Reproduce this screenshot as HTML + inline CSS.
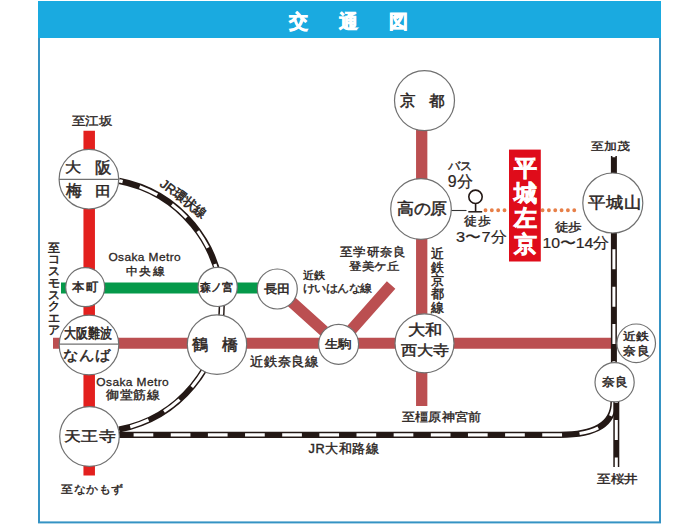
<!DOCTYPE html>
<html><head><meta charset="utf-8">
<style>
html,body{margin:0;padding:0;background:#fff;width:700px;height:525px;overflow:hidden}
svg{position:absolute;left:0;top:0;font-family:"Liberation Sans",sans-serif}
</style></head><body>
<svg width="700" height="525" viewBox="0 0 700 525">
<!-- frame -->
<rect x="39" y="2" width="621" height="520.4" fill="#fff" stroke="#3593c4" stroke-width="2"/>
<rect x="38" y="1" width="623" height="37" fill="#1aaae0"/>
<g fill="#fff" stroke="#fff" stroke-width="0.7" font-size="19" font-weight="bold">
<text x="289" y="28.2">交</text><text x="339" y="28.2">通</text><text x="389" y="28.2">図</text>
</g>
<!-- lines -->
<g fill="none" stroke-linecap="butt">
<line x1="89.2" y1="130.7" x2="89.2" y2="475.5" stroke="#e3201e" stroke-width="11.5"/>
<line x1="61" y1="288" x2="277" y2="288" stroke="#05994a" stroke-width="11"/>
<line x1="53" y1="343.3" x2="611" y2="343.3" stroke="#bb4f51" stroke-width="11"/>
<line x1="421.7" y1="100" x2="421.7" y2="406" stroke="#bb4f51" stroke-width="11.3"/>
<polyline points="277.3,289 338.6,344.3 391.1,284.9" stroke="#bb4f51" stroke-width="11.3"/>
<line x1="485.5" y1="210.3" x2="580" y2="210.3" stroke="#e77f48" stroke-width="3.9" stroke-linecap="round" stroke-dasharray="0 6.34"/>
<line x1="451" y1="210.5" x2="466.5" y2="210.5" stroke="#333" stroke-width="1.1"/>
</g>
<!-- JR tracks -->
<g fill="none">
<path d="M119,180.86 A126.6 126.6 0 0 1 119,429.54" stroke="#231815" stroke-width="6.2"/>
<path d="M119,180.86 A126.6 126.6 0 0 1 119,429.54" stroke="#fff" stroke-width="3.2" stroke-dasharray="19.5 17.6" stroke-dashoffset="15.7"/>
<path d="M89,434.8 H560 C596,434.8 613.5,424 613.5,402" stroke="#231815" stroke-width="6.2"/>
<path d="M89,434.8 H560 C596,434.8 613.5,424 613.5,402" stroke="#fff" stroke-width="3.2" stroke-dasharray="19.7 17.45" stroke-dashoffset="29.7"/>
<line x1="613.9" y1="156" x2="613.9" y2="402" stroke="#231815" stroke-width="6"/>
<line x1="613.9" y1="156" x2="613.9" y2="402" stroke="#fff" stroke-width="3" stroke-dasharray="20 17.35" stroke-dashoffset="18.75"/>
<line x1="616.3" y1="382" x2="616.3" y2="467" stroke="#231815" stroke-width="6"/>
<line x1="616.3" y1="382" x2="616.3" y2="467" stroke="#fff" stroke-width="3" stroke-dasharray="20 17.35" stroke-dashoffset="36.6"/>
</g>
<!-- bus stop -->
<circle cx="475.5" cy="196.8" r="6.7" fill="#fff" stroke="#231815" stroke-width="1.6"/>
<line x1="475.6" y1="203.4" x2="475.6" y2="211.5" stroke="#231815" stroke-width="1.6"/>
<line x1="468.3" y1="211.8" x2="482.2" y2="211.8" stroke="#231815" stroke-width="1.5"/>
<!-- stations -->
<g fill="#fff" stroke="#707070" stroke-width="1.2">
<circle cx="88.9" cy="179.2" r="29.8"/>
<circle cx="85.2" cy="287.2" r="19.5"/>
<circle cx="89" cy="345" r="29.8"/>
<circle cx="89.5" cy="436.5" r="29.8"/>
<circle cx="217.7" cy="286.9" r="19.6"/>
<circle cx="277.3" cy="289" r="20"/>
<circle cx="217" cy="344.6" r="29.7"/>
<circle cx="338.6" cy="344.3" r="20"/>
<circle cx="424.5" cy="100.6" r="30"/>
<circle cx="421" cy="209" r="30.3"/>
<circle cx="424.5" cy="343.3" r="29.5"/>
<circle cx="612.8" cy="203" r="30"/>
<circle cx="636.2" cy="343.3" r="19.3"/>
<circle cx="614.6" cy="382.2" r="19.6"/>
</g>
<g stroke="#707070" stroke-width="1.2">
<line x1="59" y1="179.3" x2="118.7" y2="179.3"/>
<line x1="59.2" y1="344.2" x2="118.8" y2="344.2"/>
</g>
<!-- red box -->
<rect x="509" y="149.6" width="31.8" height="111.9" fill="#df0c1a"/>
<g fill="#fff" stroke="#fff" stroke-width="0.7" font-size="22.8" font-weight="bold">
<text x="513.6" y="175.8">平</text><text x="513.6" y="201.1">城</text><text x="513.6" y="226.4">左</text><text x="513.6" y="251.6">京</text>
</g>
<g fill="#2b2523" stroke="#2b2523" stroke-width="0.45" font-size="13">
<text x="431" y="258.30">近</text><text x="431" y="271.65">鉄</text><text x="431" y="285.00">京</text><text x="431" y="298.35">都</text><text x="431" y="311.70">線</text>
</g>
<g fill="#2b2523" stroke="#2b2523" stroke-width="0.5" font-size="12.3">
<text x="48.3" y="251.60">至</text><text x="48.3" y="263.35">コ</text><text x="48.3" y="275.10">ス</text><text x="48.3" y="286.85">モ</text><text x="48.3" y="298.60">ス</text><text x="48.3" y="310.35">ク</text><text x="48.3" y="322.10">エ</text><text x="48.3" y="333.85">ア</text>
</g>
<text fill="#2b2523" stroke="#2b2523" stroke-width="0.5" font-size="13" transform="translate(183.6,198.6) rotate(37.5)" text-anchor="middle" y="4.6">JR環状線</text>

<text transform="translate(65.30 172.40) scale(1 0.870)" font-size="16.62" fill="#2b2523" stroke="#2b2523" stroke-width="0.5">大</text>
<text transform="translate(95.10 172.51) scale(1 0.970)" font-size="16.34" fill="#2b2523" stroke="#2b2523" stroke-width="0.5">阪</text>
<text transform="translate(66.34 195.76) scale(1 1.020)" font-size="15.96" fill="#2b2523" stroke="#2b2523" stroke-width="0.5">梅</text>
<text transform="translate(95.46 196.39) scale(1 0.870)" font-size="16.60" fill="#2b2523" stroke="#2b2523" stroke-width="0.5">田</text>
<text transform="translate(400.26 106.40) scale(1 1.030)" font-size="15.09" fill="#2b2523" stroke="#2b2523" stroke-width="0.5">京</text>
<text transform="translate(429.35 106.32) scale(1 0.970)" font-size="15.67" fill="#2b2523" stroke="#2b2523" stroke-width="0.5">都</text>
<text transform="translate(397.37 214.32) scale(1 0.950)" font-size="16.86" fill="#2b2523" stroke="#2b2523" stroke-width="0.5">高の原</text>
<text transform="translate(408.09 335.39) scale(1 0.870)" font-size="17.26" fill="#2b2523" stroke="#2b2523" stroke-width="0.5">大和</text>
<text transform="translate(400.61 355.02) scale(1 0.870)" font-size="16.46" fill="#2b2523" stroke="#2b2523" stroke-width="0.5">西大寺</text>
<text transform="translate(588.36 208.17) scale(1 0.920)" font-size="17.33" fill="#2b2523" stroke="#2b2523" stroke-width="0.5">平城山</text>
<text transform="translate(192.42 349.67) scale(1 1.000)" font-size="15.99" fill="#2b2523" stroke="#2b2523" stroke-width="0.5">鶴</text>
<text transform="translate(221.66 349.74) scale(1 1.000)" font-size="16.41" fill="#2b2523" stroke="#2b2523" stroke-width="0.5">橋</text>
<text transform="translate(63.68 441.48) scale(1 0.830)" font-size="17.07" fill="#2b2523" stroke="#2b2523" stroke-width="0.5">天王寺</text>
<text transform="translate(64.46 337.74) scale(1 1.170)" font-size="12.19" fill="#2b2523" stroke="#2b2523" stroke-width="0.5">大阪難波</text>
<text transform="translate(63.44 359.70) scale(1 0.910)" font-size="15.69" fill="#2b2523" stroke="#2b2523" stroke-width="0.5">なんば</text>
<text transform="translate(72.45 291.47) scale(1 0.970)" font-size="12.77" fill="#2b2523" stroke="#2b2523" stroke-width="0.5">本町</text>
<text transform="translate(200.48 290.82) scale(1 1.010)" font-size="11.26" fill="#2b2523" stroke="#2b2523" stroke-width="0.5">森ノ宮</text>
<text transform="translate(264.27 292.86) scale(1 0.900)" font-size="12.82" fill="#2b2523" stroke="#2b2523" stroke-width="0.5">長田</text>
<text transform="translate(325.40 347.84) scale(1 0.900)" font-size="12.98" fill="#2b2523" stroke="#2b2523" stroke-width="0.5">生駒</text>
<text transform="translate(601.70 386.41) scale(1 0.930)" font-size="13.12" fill="#2b2523" stroke="#2b2523" stroke-width="0.5">奈良</text>
<text transform="translate(622.69 339.76) scale(1 0.850)" font-size="12.62" fill="#2b2523" stroke="#2b2523" stroke-width="0.5">近鉄</text>
<text transform="translate(623.25 354.72) scale(1 0.930)" font-size="13.16" fill="#2b2523" stroke="#2b2523" stroke-width="0.5">奈良</text>
<text transform="translate(71.53 124.87) scale(1 0.890)" font-size="13.50" fill="#2b2523" stroke="#2b2523" stroke-width="0.4">至江坂</text>
<text transform="translate(61.42 492.50) scale(1 0.920)" font-size="12.19" fill="#2b2523" stroke="#2b2523" stroke-width="0.4">至なかもず</text>
<text transform="translate(591.47 150.35) scale(1 0.850)" font-size="13.13" fill="#2b2523" stroke="#2b2523" stroke-width="0.4">至加茂</text>
<text transform="translate(596.75 483.22) scale(1 0.880)" font-size="13.47" fill="#2b2523" stroke="#2b2523" stroke-width="0.4">至桜井</text>
<text transform="translate(96.37 386.46) scale(1 0.970)" font-size="11.96" letter-spacing="0.40" fill="#2b2523" stroke="#2b2523" stroke-width="0.3">Osaka Metro</text>
<text transform="translate(106.32 399.48) scale(1 0.930)" font-size="12.45" letter-spacing="0.99" fill="#2b2523" stroke="#2b2523" stroke-width="0.4">御堂筋線</text>
<text transform="translate(250.23 365.57) scale(1 0.970)" font-size="12.95" letter-spacing="0.52" fill="#2b2523" stroke="#2b2523" stroke-width="0.4">近鉄奈良線</text>
<text transform="translate(340.41 256.13) scale(1 0.960)" font-size="12.61" letter-spacing="0.82" fill="#2b2523" stroke="#2b2523" stroke-width="0.4">至学研奈良</text>
<text transform="translate(349.24 270.48) scale(1 0.880)" font-size="12.18" letter-spacing="0.77" fill="#2b2523" stroke="#2b2523" stroke-width="0.4">登美ケ丘</text>
<text transform="translate(303.22 279.39) scale(1 0.990)" font-size="11.33" fill="#2b2523" stroke="#2b2523" stroke-width="0.4">近鉄</text>
<text transform="translate(302.65 292.42) scale(1 0.910)" font-size="11.76" fill="#2b2523" stroke="#2b2523" stroke-width="0.4">けいはんな線</text>
<text transform="translate(108.39 260.59) scale(1 0.960)" font-size="11.94" letter-spacing="0.40" fill="#2b2523" stroke="#2b2523" stroke-width="0.3">Osaka Metro</text>
<text transform="translate(125.68 274.78) scale(1 0.930)" font-size="12.29" letter-spacing="0.99" fill="#2b2523" stroke="#2b2523" stroke-width="0.4">中央線</text>
<text transform="translate(401.58 421.47) scale(1 0.920)" font-size="12.91" letter-spacing="0.83" fill="#2b2523" stroke="#2b2523" stroke-width="0.4">至橿原神宮前</text>
<text transform="translate(308.54 453.46) scale(1 1.000)" font-size="12.70" letter-spacing="0.51" fill="#2b2523" stroke="#2b2523" stroke-width="0.4">JR大和路線</text>
<text transform="translate(448.37 169.65) scale(1 0.980)" font-size="12.39" fill="#2b2523" stroke="#2b2523" stroke-width="0.4">バス</text>
<text transform="translate(447.85 187.35) scale(1 0.990)" font-size="15.89" fill="#2b2523" stroke="#2b2523" stroke-width="0.2">9分</text>
<text transform="translate(464.20 224.86) scale(1 0.930)" font-size="12.97" fill="#2b2523" stroke="#2b2523" stroke-width="0.4">徒歩</text>
<text transform="translate(455.91 242.47) scale(1 0.940)" font-size="16.39" fill="#2b2523" stroke="#2b2523" stroke-width="0.2">3〜7分</text>
<text transform="translate(555.45 230.72) scale(1 0.880)" font-size="13.27" fill="#2b2523" stroke="#2b2523" stroke-width="0.4">徒歩</text>
<text transform="translate(542.55 247.93) scale(1 0.930)" font-size="15.82" fill="#2b2523" stroke="#2b2523" stroke-width="0.2">10〜14分</text>
</svg>
</body></html>
